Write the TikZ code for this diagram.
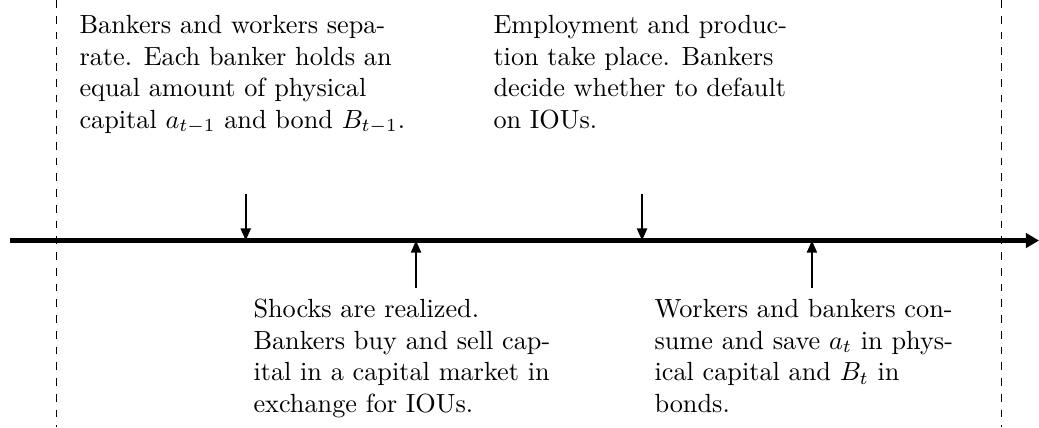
\documentclass[tikz,border=0pt]{standalone}
\usepackage{amsmath}
\usepackage{tikz}
\usetikzlibrary{arrows.meta,positioning}

\begin{document}
\begin{tikzpicture}[font=\normalsize,
    event/.style={align=left, inner sep=0pt, anchor=north west},
    tick/.style={thick, -{Triangle[width=3.8pt,length=4.6pt]}}]
  \useasboundingbox (0,-2.497) rectangle (13.91,3.22);
  % Period boundaries (dashed)
  \draw[dashed] (0.756,3.22) -- (0.756,-2.497);
  \draw[dashed] (13.41,3.22) -- (13.41,-2.497);

  % Timeline
  \coordinate (start) at (0.134,0);
  \coordinate (end) at (13.91,0);
  \draw[ultra thick, -{Triangle[width=5.5pt,length=5pt]}] (start) -- (end);

  % Event arrows: down from above, up from below
  \foreach \x/\y [count=\i] in {3.290/0.629, 5.570/-0.629, 8.596/0.629, 10.87/-0.629}{
    \coordinate (tick\i) at (\x,0);
    \coordinate (tail\i) at (\x,\y);
    \draw[tick] (tail\i) -- (tick\i);
  }

  % Event texts (lines broken as printed)
  \node[event] (separate) at (1.058,3.022) {Bankers and workers sepa-\\rate. Each banker holds an\\equal amount of physical\\capital $a_{t-1}$ and bond $B_{t-1}$.};
  \node[event] (produce) at (6.60,3.022) {Employment and produc-\\tion take place. Bankers\\decide whether to default\\on IOUs.};
  \node[event] (shock) at (3.387,-0.78) {Shocks are realized.\\Bankers buy and sell cap-\\ital in a capital market in\\exchange for IOUs.};
  \node[event] (consume) at (8.756,-0.78) {Workers and bankers con-\\sume and save $a_t$ in phys-\\ical capital and $B_t$ in\\bonds.};
\end{tikzpicture}
\end{document}
